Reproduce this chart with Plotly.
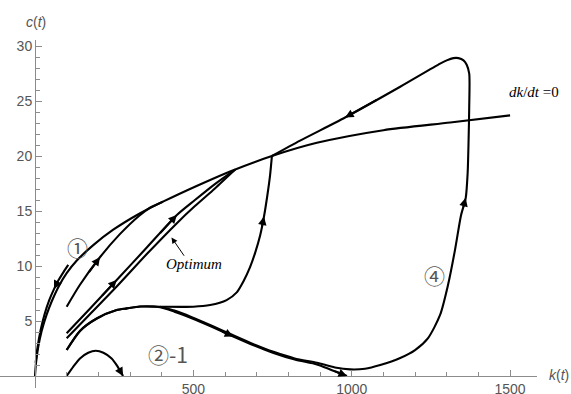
import plotly.graph_objects as go

# ---- phase-diagram data: capital k(t) against consumption c(t) ----

# dk/dt = 0 locus
locus_k = [0, 3, 10, 21, 37, 53, 74, 100, 132, 184, 247, 332, 404, 512, 616, 748, 890, 1100, 1311, 1500]
locus_c = [0, 1.15, 2.6, 4.1, 5.6, 6.8, 8.1, 9.35, 10.5, 11.9, 13.3, 14.8, 15.85, 17.3, 18.6, 20.0, 21.2, 22.35, 23.05, 23.7]

# path (1): starts above the locus and runs back toward the origin
path1_k = [105, 90, 74, 60, 45, 30, 18, 8, 2]
path1_c = [10.1, 9.45, 8.7, 7.9, 6.9, 5.6, 4.2, 2.6, 1.2]

# path starting at c = 6.3, merging into the locus
path_a_k = [100, 142, 205, 268, 330, 363, 404]
path_a_c = [6.3, 8.3, 10.8, 12.9, 14.6, 15.3, 15.85]

# optimum pair
opt_hi_k = [100, 174, 258, 353, 448, 505, 568, 632]
opt_hi_c = [3.88, 6.14, 8.73, 11.68, 14.64, 16.0, 17.45, 18.77]
opt_lo_k = [100, 174, 258, 353, 448, 505, 568, 632]
opt_lo_c = [3.43, 5.64, 8.14, 11.09, 13.9, 15.45, 17.05, 18.77]

# path that stays flat, then climbs to the steady state
path_s_k = [100, 142, 195, 258, 290, 332, 395, 500, 553, 605, 637, 658, 679, 695, 711, 723, 733, 742, 748]
path_s_c = [2.36, 4.1, 5.23, 6.0, 6.15, 6.32, 6.3, 6.3, 6.45, 6.9, 7.6, 8.6, 9.9, 11.2, 12.8, 14.5, 16.3, 18.2, 20.0]

# path (2): falls until consumption hits zero
path2_k = [100, 142, 195, 258, 290, 332, 395, 440, 495, 560, 626, 690, 753, 820, 890, 932, 985]
path2_c = [2.36, 4.1, 5.23, 6.0, 6.15, 6.32, 6.25, 5.85, 5.25, 4.45, 3.6, 2.8, 2.1, 1.5, 1.05, 0.6, 0.0]

# path (4): dips, swings up past the locus and returns to the steady state
path4_k = [395, 440, 495, 560, 626, 690, 753, 820, 890, 947, 995, 1042, 1090, 1153, 1200, 1241, 1279,
           1304, 1326, 1345, 1360, 1366, 1369, 1371, 1371, 1363, 1353, 1337, 1321, 1300, 1279, 1153, 979, 837, 748]
path4_c = [6.3, 5.95, 5.35, 4.55, 3.7, 2.9, 2.2, 1.6, 1.2, 0.78, 0.6, 0.66, 1.0, 1.64, 2.36, 3.45, 5.55,
           8.27, 11.45, 14.6, 16.2, 18.45, 21.45, 24.45, 27.5, 28.3, 28.7, 28.9, 28.9, 28.7, 28.4, 26.3, 23.5, 21.4, 20.0]

# path (2)-1: short hump from k = 100
path21_k = [100, 121, 142, 168, 192, 216, 242, 260, 278]
path21_c = [0, 0.85, 1.6, 2.12, 2.3, 2.12, 1.6, 0.9, 0.0]

# axis ticks
x_major = [500, 1000, 1500]
x_minor = [100, 200, 300, 400, 600, 700, 800, 900, 1100, 1200, 1300, 1400]
y_major = [5, 10, 15, 20, 25, 30]
y_minor = [-1] + [v for v in range(1, 30) if v % 5]

# ---- layout geometry ----
W, H = 571, 394
X_RANGE = [-110.5, 1585]
Y_RANGE = [-1.09, 30.55]
X_DOM = [0, 537 / W]
Y_DOM = [6 / H, 354 / H]

def x_paper(k):
    f = (k - X_RANGE[0]) / (X_RANGE[1] - X_RANGE[0])
    return X_DOM[0] + f * (X_DOM[1] - X_DOM[0])

def y_paper(c):
    f = (c - Y_RANGE[0]) / (Y_RANGE[1] - Y_RANGE[0])
    return Y_DOM[0] + f * (Y_DOM[1] - Y_DOM[0])

fig = go.Figure()

def curve(k, c, width=2.1):
    fig.add_trace(go.Scatter(
        x=k, y=c, mode="lines",
        line=dict(color="black", width=width, shape="spline", smoothing=0.7),
        hoverinfo="skip", showlegend=False))

def arrow(k, c, i, frac=0.6):
    # arrowhead on point i, oriented along the segment from point i-1
    tk = k[i] - frac * (k[i] - k[i - 1])
    tc = c[i] - frac * (c[i] - c[i - 1])
    fig.add_annotation(
        x=k[i], y=c[i], ax=tk, ay=tc, xref="x", yref="y", axref="x", ayref="y",
        text="", showarrow=True, arrowhead=2, arrowsize=0.85, arrowwidth=2,
        arrowcolor="black", standoff=0, startstandoff=0)

curve(locus_k, locus_c)
curve(path1_k, path1_c)
curve(path_a_k, path_a_c)
curve(opt_hi_k, opt_hi_c)
curve(opt_lo_k, opt_lo_c)
curve(path_s_k, path_s_c)
curve(path2_k, path2_c)
curve(path4_k, path4_c)
curve(path21_k, path21_c)

arrow(path1_k, path1_c, 3)
arrow(path_a_k, path_a_c, 2)
arrow(opt_hi_k, opt_hi_c, 2)
arrow(opt_hi_k, opt_hi_c, 4)
arrow(path_s_k, path_s_c, 15)
arrow(path2_k, path2_c, 10)
arrow(path2_k, path2_c, len(path2_k) - 1, frac=0.8)
arrow(path4_k, path4_c, 20)
arrow(path4_k, path4_c, 32)
arrow(path21_k, path21_c, len(path21_k) - 1, frac=0.8)

grey = "#555555"
axis_col = "#8c8c8c"
tick_font = dict(family="Liberation Sans, Arial, sans-serif", size=14, color=grey)
circ_font = dict(family="Noto Sans CJK JP, sans-serif", size=21, color=grey)
serif_it = dict(family="Liberation Serif, Times New Roman, serif", size=15, color="black")

# text labels
fig.add_annotation(x=133, y=11.7, text="①", showarrow=False, font=circ_font,
                   xanchor="center", yanchor="middle")
fig.add_annotation(x=1260, y=9.2, text="④", showarrow=False, font=circ_font,
                   xanchor="center", yanchor="middle")
fig.add_annotation(x=350, y=2.0, text="②-1", showarrow=False, font=circ_font,
                   xanchor="left", yanchor="middle")
fig.add_annotation(x=501, y=10.2, text="<i>Optimum</i>", showarrow=False, font=serif_it,
                   xanchor="center", yanchor="middle")
fig.add_annotation(x=431, y=12.6, ax=474, ay=10.8, xref="x", yref="y", axref="x", ayref="y",
                   text="", showarrow=True, arrowhead=2, arrowsize=1.2, arrowwidth=1,
                   arrowcolor="black", standoff=0)
fig.add_annotation(x=1490, y=25.8, text="<i>dk</i>/<i>dt</i> =0", showarrow=False, font=serif_it,
                   xanchor="left", yanchor="middle")
fig.add_annotation(x=36 / W, y=1 - 21.5 / H, xref="paper", yref="paper",
                   text="<i>c</i>(<i>t</i>)", showarrow=False, font=tick_font,
                   xanchor="center", yanchor="middle")
fig.add_annotation(x=559 / W, y=1 - 375 / H, xref="paper", yref="paper",
                   text="<i>k</i>(<i>t</i>)", showarrow=False, font=tick_font,
                   xanchor="center", yanchor="middle")

fig.update_layout(
    width=W, height=H, margin=dict(l=0, r=0, t=0, b=0),
    plot_bgcolor="white", paper_bgcolor="white", showlegend=False,
    xaxis=dict(
        range=X_RANGE, domain=X_DOM, anchor="free", position=y_paper(0),
        showgrid=False, zeroline=False, showline=True, linecolor=axis_col, linewidth=1,
        ticks="inside", ticklen=6, tickwidth=1, tickcolor=axis_col,
        tickvals=x_major, ticktext=[str(v) for v in x_major], tickfont=tick_font,
        minor=dict(tickvals=x_minor, ticks="inside", ticklen=4, tickcolor=axis_col, showgrid=False),
        automargin=False, fixedrange=True),
    yaxis=dict(
        range=Y_RANGE, domain=Y_DOM, anchor="free", position=x_paper(0),
        showgrid=False, zeroline=False, showline=True, linecolor=axis_col, linewidth=1,
        ticks="inside", ticklen=6, tickwidth=1, tickcolor=axis_col,
        tickvals=y_major, ticktext=[str(v) for v in y_major], tickfont=tick_font,
        minor=dict(tickvals=y_minor, ticks="inside", ticklen=4, tickcolor=axis_col, showgrid=False),
        automargin=False, fixedrange=True),
)

fig.write_html("out.html")
